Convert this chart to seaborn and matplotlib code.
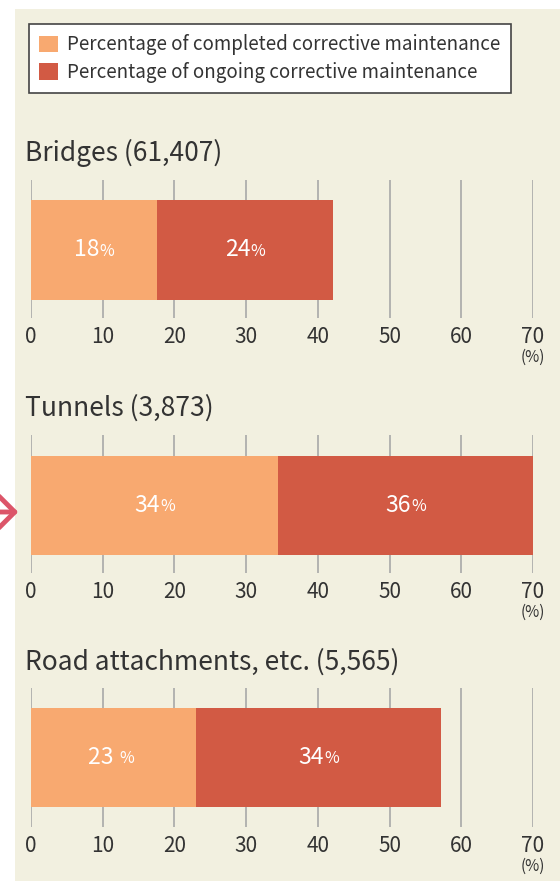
import matplotlib
matplotlib.use("Agg")
import matplotlib.pyplot as plt
from matplotlib.patches import Patch, Rectangle, FancyArrowPatch
import seaborn as sns

# values (percent)
facilities = ["Bridges (61,407)", "Tunnels (3,873)", "Road attachments, etc. (5,565)"]
completed = [17.5, 34.4, 23.0]
ongoing = [24.6, 35.6, 34.2]
completed_labels = ["18", "34", "23 "]
ongoing_labels = ["24", "36", "34"]
ticks = [0, 10, 20, 30, 40, 50, 60, 70]

c_done = "#f8a970"
c_ongoing = "#d25a44"
bg = "#f2f0e0"
txt = "#333333"

sns.set_theme(style="white")
plt.rcParams["font.family"] = ["Noto Sans CJK JP", "DejaVu Sans"]

W, H = 560, 881
fig = plt.figure(figsize=(W / 100, H / 100), dpi=100, facecolor="white")
fig.patches.append(Rectangle((15 / W, 0), 1 - 15 / W, 1 - 9 / H, transform=fig.transFigure,
                             facecolor=bg, edgecolor="none", zorder=-10))

# pixel boxes (grid top, grid bottom) for each panel
panels = [(180, 318), (435, 573), (688, 827)]
bars = [(200, 300), (456, 555), (708, 807)]
title_y = [153, 408, 662]

x0, x1 = 31, 533
for i, name in enumerate(facilities):
    top, bot = panels[i]
    ax = fig.add_axes([x0 / W, 1 - bot / H, (x1 - x0) / W, (bot - top) / H])
    ax.patch.set_alpha(0)
    total = completed[i] + ongoing[i]
    sns.barplot(x=[total], y=[name], color=c_ongoing, width=0.8, saturation=1,
                linewidth=0, ax=ax, zorder=2)
    sns.barplot(x=[completed[i]], y=[name], color=c_done, width=0.8, saturation=1,
                linewidth=0, ax=ax, zorder=3)
    # map bar pixels onto the category axis
    bt, bb = bars[i]
    unit = 0.8 / (bb - bt)
    ax.set_ylim(0.4 + (bot - bb) * unit, -0.4 - (bt - top) * unit)
    ax.set_xlim(0, 70)
    ax.set_xticks(ticks)
    ax.set_xticklabels([str(t) for t in ticks], fontsize=15, color=txt)
    ax.tick_params(axis="x", length=0, pad=6)
    ax.set_yticks([])
    ax.set_xlabel("")
    ax.set_ylabel("")
    for s in ax.spines.values():
        s.set_visible(False)
    ax.grid(axis="x", color="#a8a8a8", linewidth=1.2, zorder=1)
    ax.set_axisbelow(True)

    # labels in the middle of each segment
    segs = [(completed[i] / 2, completed_labels[i]), (completed[i] + ongoing[i] / 2, ongoing_labels[i])]
    for xc, lab in segs:
        ax.annotate(lab, xy=(xc, 0), xytext=(4, 0), textcoords="offset points",
                    ha="right", va="center", fontsize=16.5, color="white", zorder=5)
        ax.annotate("%", xy=(xc, 0), xytext=(4, -1), textcoords="offset points",
                    ha="left", va="center", fontsize=11.5, color="white", zorder=5)
    ax.annotate("(%)", xy=(70, 0), xycoords=("data", "axes fraction"), xytext=(0, -28),
                textcoords="offset points", ha="center", va="center", fontsize=11, color=txt)

    fig.text(25 / W, 1 - title_y[i] / H, name, fontsize=19, color=txt, ha="left", va="center")

handles = [Patch(facecolor=c_done, edgecolor="none"), Patch(facecolor=c_ongoing, edgecolor="none")]
leg = fig.legend(handles, ["Percentage of completed corrective maintenance",
                           "Percentage of ongoing corrective maintenance"],
                 loc="upper left", bbox_to_anchor=(29 / W, 1 - 24 / H), borderaxespad=0,
                 fontsize=13.5, frameon=True, fancybox=False, framealpha=1, edgecolor="#444444",
                 handlelength=1.0, handleheight=1.0, handletextpad=0.5, labelspacing=0.35,
                 borderpad=0.55, labelcolor=txt)
leg.get_frame().set_linewidth(1.2)

# pink arrow at the left margin
fig.add_artist(FancyArrowPatch((-3 / W, 1 - 512 / H), (21 / W, 1 - 512 / H),
                               transform=fig.transFigure, arrowstyle="->,head_length=0.55,head_width=0.55",
                               mutation_scale=26, color="#dc5569", lw=3.5))

fig.savefig("out.png", dpi=100, facecolor="white")
